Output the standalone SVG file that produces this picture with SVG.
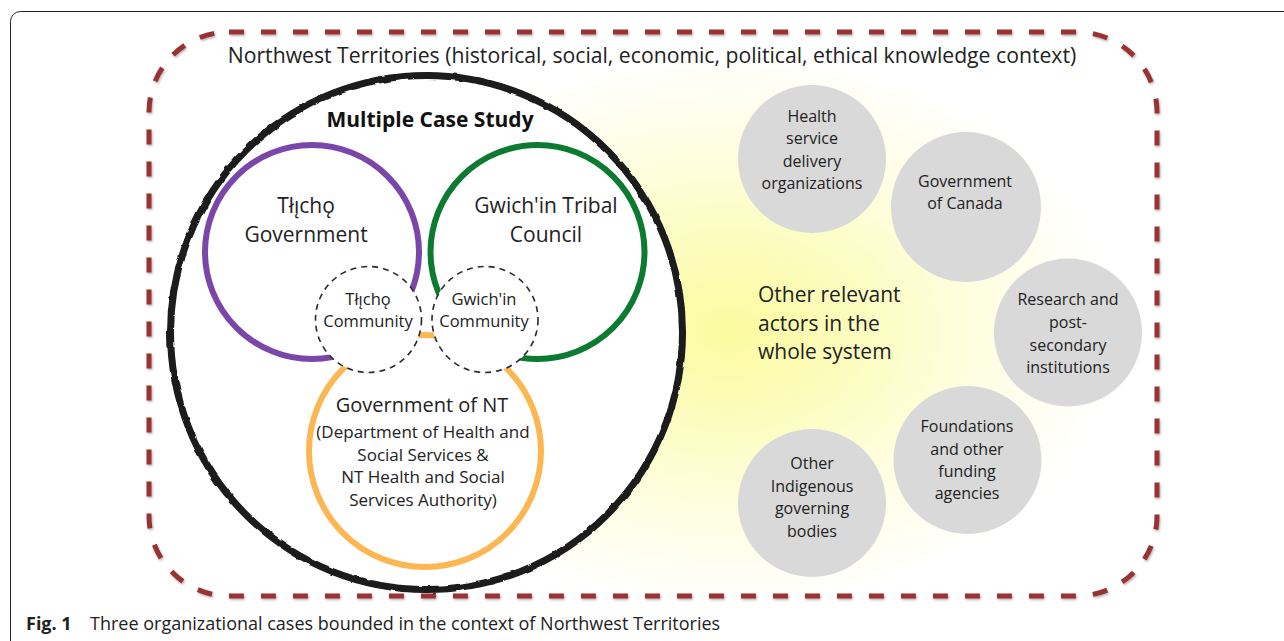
<svg xmlns="http://www.w3.org/2000/svg" width="1284" height="641" viewBox="0 0 1284 641">
  <defs>
    <radialGradient id="glow" gradientUnits="userSpaceOnUse" cx="730" cy="330" r="390" gradientTransform="translate(730 330) scale(1 0.72) translate(-730 -330)">
      <stop offset="0" stop-color="#fbfba0"/>
      <stop offset="0.3" stop-color="#fcfcbc"/>
      <stop offset="0.65" stop-color="#fefee2"/>
      <stop offset="1" stop-color="#ffffff"/>
    </radialGradient>
    <filter id="shadow" x="-5%" y="-5%" width="110%" height="110%">
      <feDropShadow dx="1" dy="1.5" stdDeviation="1.2" flood-color="#000" flood-opacity="0.3"/>
    </filter>
    <filter id="rough" x="-5%" y="-5%" width="110%" height="110%">
      <feTurbulence type="fractalNoise" baseFrequency="0.08" numOctaves="2" seed="3" result="n"/>
      <feDisplacementMap in="SourceGraphic" in2="n" scale="3" xChannelSelector="R" yChannelSelector="G"/>
    </filter>
    <style>
      text { font-family: "Open Sans", "Noto Sans", "DejaVu Sans", sans-serif; fill: #222; }
      .c { text-anchor: middle; }
      .big { font-size: 21px; }
      .mid { font-size: 17px; }
      .sm { font-size: 16px; }
      .ring { fill: none; stroke-width: 6; }
      .comm { fill: #fff; stroke: #2a2a2a; stroke-width: 1.6; stroke-dasharray: 6 5; }
      .actor { fill: #d9d9d9; }
    </style>
  </defs>

  <rect x="0" y="0" width="1284" height="641" fill="#fff"/>
  <!-- outer figure frame -->
  <rect x="10.5" y="11.5" width="1300" height="660" rx="10" fill="none" stroke="#222" stroke-width="1"/>

  <!-- yellow glow -->
  <ellipse cx="730" cy="330" rx="400" ry="285" fill="url(#glow)"/>

  <!-- context boundary -->
  <g id="context">
    <rect x="149" y="32" width="1008" height="564" rx="80" fill="none" stroke="#993333" stroke-width="5" stroke-dasharray="15 17" filter="url(#shadow)"/>
    <text x="652" y="63" class="c" font-size="21.2">Northwest Territories (historical, social, economic, political, ethical knowledge context)</text>
  </g>

  <!-- multiple case study boundary -->
  <g id="case-study">
    <ellipse cx="426.5" cy="332.5" rx="256" ry="257" fill="#fff" stroke="#1a1a1a" stroke-width="7" filter="url(#rough)"/>
    <text x="430" y="127" class="c" font-size="21" font-weight="bold" style="fill:#111">Multiple Case Study</text>
  </g>

  <g id="tlicho-government">
    <circle cx="312" cy="252" r="107" class="ring" stroke="#7b46a9"/>
    <text x="306" y="213" class="c big">Tłı̨chǫ</text>
    <text x="306" y="242" class="c big">Government</text>
  </g>

  <g id="gwichin-council">
    <circle cx="537.5" cy="252" r="107" class="ring" stroke="#0d7a32"/>
    <text x="546" y="213" class="c big">Gwich'in Tribal</text>
    <text x="546" y="242" class="c big">Council</text>
  </g>

  <g id="gnwt">
    <circle cx="425" cy="451" r="116" class="ring" stroke="#fdb752"/>
    <text x="422" y="412" class="c" font-size="20">Government of NT</text>
    <text x="423" y="438" class="c mid">(Department of Health and</text>
    <text x="423" y="461" class="c mid">Social Services &amp;</text>
    <text x="423" y="483" class="c mid">NT Health and Social</text>
    <text x="423" y="506" class="c mid">Services Authority)</text>
  </g>

  <g id="tlicho-community">
    <circle cx="368.5" cy="319.5" r="53" class="comm"/>
    <text x="368" y="305" class="c" font-size="16.5">Tłı̨chǫ</text>
    <text x="368" y="327" class="c" font-size="16.5">Community</text>
  </g>

  <g id="gwichin-community">
    <circle cx="485" cy="319.5" r="53" class="comm"/>
    <text x="484" y="305" class="c" font-size="16.5">Gwich'in</text>
    <text x="484" y="327" class="c" font-size="16.5">Community</text>
  </g>

  <g id="other-actors-label">
    <text x="758" y="302" class="big">Other relevant</text>
    <text x="758" y="331" class="big">actors in the</text>
    <text x="758" y="359" class="big">whole system</text>
  </g>

  <g id="health-service">
    <circle cx="812" cy="159" r="74" class="actor"/>
    <text x="812" y="122" class="c sm">Health</text>
    <text x="812" y="144" class="c sm">service</text>
    <text x="812" y="167" class="c sm">delivery</text>
    <text x="812" y="189" class="c sm">organizations</text>
  </g>

  <g id="gov-canada">
    <circle cx="966" cy="207" r="75" class="actor"/>
    <text x="965" y="187" class="c sm">Government</text>
    <text x="965" y="209" class="c sm">of Canada</text>
  </g>

  <g id="research">
    <circle cx="1068" cy="332.5" r="74" class="actor"/>
    <text x="1068" y="305" class="c sm">Research and</text>
    <text x="1068" y="328" class="c sm">post-</text>
    <text x="1068" y="351" class="c sm">secondary</text>
    <text x="1068" y="373" class="c sm">institutions</text>
  </g>

  <g id="foundations">
    <circle cx="967.5" cy="460" r="74" class="actor"/>
    <text x="967" y="432" class="c sm">Foundations</text>
    <text x="967" y="455" class="c sm">and other</text>
    <text x="967" y="477" class="c sm">funding</text>
    <text x="967" y="499" class="c sm">agencies</text>
  </g>

  <g id="indigenous-bodies">
    <circle cx="812" cy="503" r="74" class="actor"/>
    <text x="812" y="469" class="c sm">Other</text>
    <text x="812" y="492" class="c sm">Indigenous</text>
    <text x="812" y="514" class="c sm">governing</text>
    <text x="812" y="537" class="c sm">bodies</text>
  </g>

  <g id="connectors"></g>

  <g id="caption">
    <text x="26" y="630" font-size="18"><tspan font-weight="bold">Fig. 1</tspan><tspan x="90">Three organizational cases bounded in the context of Northwest Territories</tspan></text>
  </g>
</svg>
